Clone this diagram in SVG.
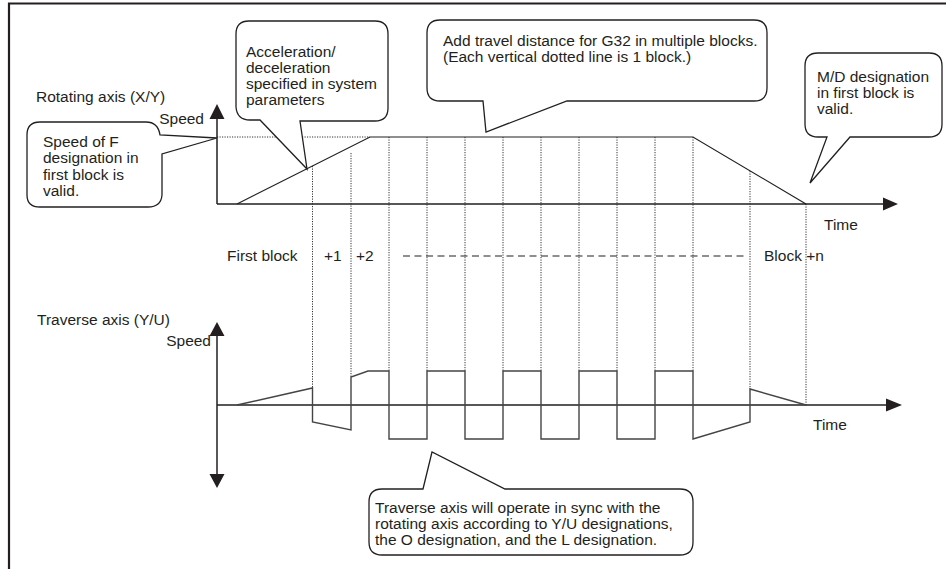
<svg xmlns="http://www.w3.org/2000/svg" width="946" height="569" viewBox="0 0 946 569">
<style>
text{font-family:"Liberation Sans",Arial,sans-serif;font-size:15.5px;fill:#231f20}
.frame{fill:none;stroke:#231f20;stroke-width:2.2}
.axis{fill:none;stroke:#231f20;stroke-width:1.5}
.prof{fill:none;stroke:#231f20;stroke-width:1.2}
.wave{fill:none;stroke:#444;stroke-width:1.4}
.dot{fill:none;stroke:#333;stroke-width:1;stroke-dasharray:1.2 1.3}
.dash{fill:none;stroke:#231f20;stroke-width:1.1;stroke-dasharray:7 4.5}
.call{fill:#fff;stroke:#231f20;stroke-width:1.3;stroke-linejoin:miter}
.head{fill:#231f20}
</style>
<rect width="946" height="569" fill="#fff"/>
<path class="frame" d="M9 569 V3.5 H946"/>

<g id="grid">
<path class="dot" d="M217 137 H370"/>
<path class="dot" d="M312.5 166 V388 M351 153 V377 M389 137 V371 M427 137 V371 M465 137 V371 M503 137 V371 M541 137 V371 M579 137 V371 M617 137 V371 M655 137 V371 M693 137 V371 M750 171 V389 M806 204 V405"/>
<path class="dash" d="M403 256 H748"/>
</g>

<g id="rotating-axis">
<path class="axis" d="M217 204 V118 M217 204 H884"/>
<path class="head" d="M217 104 L224.5 119 H209.5 Z M898 204 L883 197.5 V210.5 Z"/>
<text x="36" y="102">Rotating axis (X/Y)</text>
<text x="204" y="124" text-anchor="end">Speed</text>
<text x="824" y="230">Time</text>
<path class="prof" d="M237 204 L370 137 H693 L806 204"/>
</g>

<g id="blocks">
<text x="227" y="261">First block</text>
<text x="324" y="261">+1</text>
<text x="356" y="261">+2</text>
<text x="764" y="261">Block +n</text>
</g>

<g id="traverse-axis">
<path class="axis" d="M217 335 V475 M217 405 H887"/>
<path class="head" d="M217 322 L224.5 336 H209.5 Z M217 488 L224.5 474 H209.5 Z M902 405 L886 398.5 V411.5 Z"/>
<text x="37" y="325">Traverse axis (Y/U)</text>
<text x="211" y="346" text-anchor="end">Speed</text>
<text x="813" y="430">Time</text>
<path class="wave" d="M237 405 L312.5 388 V422 L351 430 V377 L368 371 H389 V439 H427 V371 H465 V439 H503 V371 H541 V439 H579 V371 H617 V439 H655 V371 H693 V439 L750 422 V389 L806 405"/>
</g>

<g id="callout-f">
<path class="call" d="M40 122 H146 Q158 122 160 135 L217 138 L162 154 V195 Q161 207 148 207 H40 Q27 207 27 195 V135 Q27 122 40 122 Z"/>
<text x="43" y="147">Speed of F</text>
<text x="43" y="163">designation in</text>
<text x="43" y="180">first block is</text>
<text x="43" y="196">valid.</text>
</g>

<g id="callout-accel">
<path class="call" d="M249 21 H375 Q388 21 388 34 V108 Q388 121 375 121 H300 L307 169 L260 120 H250 Q237 120 236 107 V34 Q236 21 249 21 Z"/>
<text x="246" y="57">Acceleration/</text>
<text x="246" y="73">deceleration</text>
<text x="246" y="89">specified in system</text>
<text x="246" y="105">parameters</text>
</g>

<g id="callout-g32">
<path class="call" d="M440 20 H754 Q767 20 767 33 V88 Q767 101 754 101 H567 L486 132 L483 101 H440 Q427 101 427 88 V33 Q427 20 440 20 Z"/>
<text x="443" y="46">Add travel distance for G32 in multiple blocks.</text>
<text x="443" y="62">(Each vertical dotted line is 1 block.)</text>
</g>

<g id="callout-md">
<path class="call" d="M818 53 H929 Q942 53 942 66 V124 Q942 137 929 137 H850 L810 183 L827 137 H818 Q805 137 805 124 V66 Q805 53 818 53 Z"/>
<text x="817" y="82">M/D designation</text>
<text x="817" y="98">in first block is</text>
<text x="817" y="114">valid.</text>
</g>

<g id="callout-traverse">
<path class="call" d="M382 489 H423 L432 452 L505 489 H680 Q693 489 693 502 V542 Q693 555 680 555 H382 Q369 555 369 542 V502 Q369 489 382 489 Z"/>
<text x="375" y="513">Traverse axis will operate in sync with the</text>
<text x="375" y="529">rotating axis according to Y/U designations,</text>
<text x="375" y="545">the O designation, and the L designation.</text>
</g>
</svg>
